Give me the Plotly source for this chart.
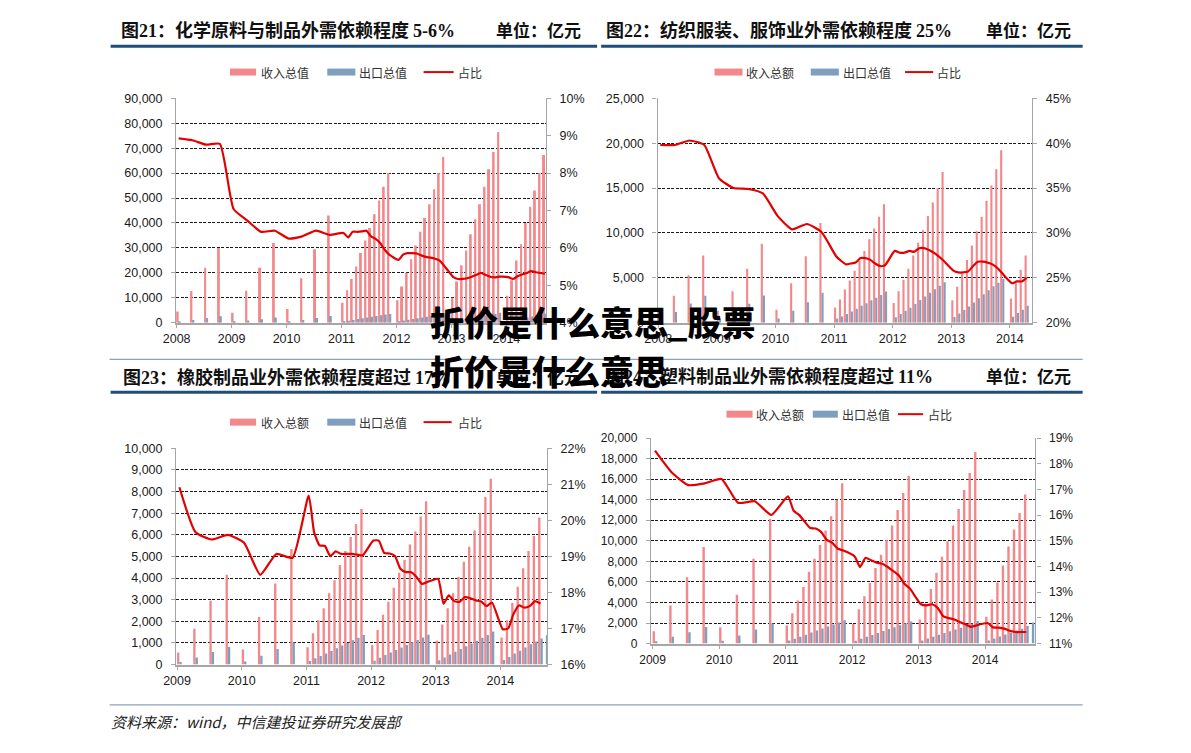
import plotly.graph_objects as go

# ---------------- data (亿元, 占比 in %) ----------------
def quarterly(*years):
    return [f"{y}Q{q}" for y in years for q in range(1, 5)]


def monthly(year, n):
    # cumulative statistics start with Jan-Feb
    return [f"{year}-{m:02d}" for m in range(2, 2 + n)]


years_top = [2008, 2009, 2010, 2011, 2012, 2013, 2014]
years_bottom = [2009, 2010, 2011, 2012, 2013, 2014]

# 图21 化学原料与制品
chem_periods = quarterly(2008, 2009, 2010) + monthly(2011, 11) + monthly(2012, 11) + monthly(2013, 11) + monthly(2014, 9)
chem_revenue = [4500, 12700, 22000, 30000,
                4000, 12800, 22000, 32000,
                5500, 17800, 29500, 43000,
                8000, 13000, 17500, 22500, 28000, 33000, 38000, 43500, 49000, 54500, 60000,
                9000, 14500, 20000, 25500, 31000, 36500, 42000, 47500, 53500, 60000, 66500,
                10000, 16500, 23000, 29000, 35500, 41500, 47500, 54500, 61500, 68500, 76500,
                10800, 17000, 25000, 31500, 40000, 46500, 53000, 60000, 67300]
chem_export = [400, 1100, 1900, 2600,
               280, 860, 1410, 2070,
               340, 1120, 1900, 2730,
               510, 820, 1130, 1450, 1800, 2130, 2410, 2720, 3020, 3260, 3480,
               510, 850, 1170, 1490, 1810, 2130, 2440, 2740, 3050, 3410, 3680,
               520, 860, 1190, 1510, 1860, 2190, 2530, 2860, 3210, 3580, 4000,
               560, 880, 1320, 1680, 2140, 2510, 2820, 3190, 3580]
chem_share = [8.93, 8.88, 8.76, 8.78,
              7.04, 6.73, 6.43, 6.46,
              6.25, 6.31, 6.46, 6.35,
              6.40, 6.28, 6.43, 6.43, 6.44, 6.46, 6.31, 6.24, 6.13, 5.95, 5.82,
              5.68, 5.82, 5.86, 5.86, 5.85, 5.80, 5.76, 5.74, 5.71, 5.66, 5.52,
              5.22, 5.17, 5.17, 5.19, 5.23, 5.28, 5.33, 5.28, 5.23, 5.21, 5.23,
              5.22, 5.17, 5.24, 5.29, 5.33, 5.38, 5.35, 5.33, 5.31]

# 图22 纺织服装、服饰业
tex_periods = quarterly(2008, 2009, 2010) + monthly(2011, 11) + monthly(2012, 11) + monthly(2013, 11) + monthly(2014, 4)
tex_revenue = [1400, 3000, 5300, 7500,
               1300, 3500, 6000, 8800,
               1450, 4400, 7400, 11100,
               1700, 2600, 3700, 4700, 5800, 6900, 8000, 9300, 10500, 11800, 13200,
               2200, 3500, 4800, 6000, 7500, 8900, 10300, 11900, 13400, 15000, 16800,
               2500, 4000, 5500, 7000, 8600, 10200, 11800, 13600, 15300, 17100, 19200,
               2700, 4400, 5900, 7500]
tex_export = [560, 1200, 2150, 3000,
              470, 1230, 2100, 3030,
              460, 1340, 2290, 3340,
              470, 700, 980, 1250, 1550, 1880, 2180, 2510, 2790, 3100, 3480,
              620, 970, 1330, 1680, 2090, 2520, 2910, 3340, 3720, 4110, 4520,
              650, 1020, 1410, 1800, 2260, 2730, 3160, 3630, 4050, 4460, 4900,
              660, 1080, 1450, 1880]
tex_share = [39.8, 39.8, 40.3, 39.8,
             36.1, 35.0, 34.9, 34.4,
             31.9, 30.4, 31.0, 30.1,
             27.4, 26.9, 26.5, 26.6, 26.7, 27.2, 27.2, 27.0, 26.6, 26.3, 26.4,
             28.0, 27.8, 27.8, 28.0, 27.9, 28.3, 28.3, 28.1, 27.8, 27.4, 26.9,
             25.8, 25.6, 25.6, 25.7, 26.3, 26.8, 26.8, 26.7, 26.5, 26.1, 25.5,
             24.4, 24.6, 24.6, 25.0]

# 图23 橡胶制品业
rub_periods = quarterly(2009, 2010) + monthly(2011, 11) + monthly(2012, 11) + monthly(2013, 11) + monthly(2014, 9)
rub_revenue = [550, 1650, 2950, 4150,
               700, 2200, 3750, 5350,
               800, 1450, 2050, 2600, 3300, 3900, 4600, 5250, 5900, 6500, 7200,
               900, 1600, 2300, 2900, 3550, 4250, 4850, 5550, 6150, 6850, 7550,
               1100, 1850, 2600, 3300, 4050, 4750, 5450, 6200, 7000, 7750, 8600,
               1250, 2050, 2850, 3600, 4450, 5250, 5950, 6800, None]
rub_export = [115, 325, 575, 815,
              135, 405, 715, 1015,
              165, 285, 395, 505, 630, 750, 880, 1000, 1125, 1240, 1370,
              175, 310, 440, 555, 675, 790, 900, 1025, 1135, 1250, 1380,
              200, 330, 465, 585, 720, 850, 975, 1100, 1235, 1365, 1525,
              210, 350, 505, 635, 785, 935, 1060, 1200, 1350]
rub_share = [20.92, 19.67, 19.47, 19.60,
             19.38, 18.49, 19.07, 18.96,
             20.69, 19.67, 19.31, 19.29, 19.01, 19.14, 19.07, 19.07, 19.07, 19.05, 19.03,
             19.44, 19.44, 19.10, 19.08, 19.01, 18.66, 18.57, 18.56, 18.43, 18.24, 18.29,
             18.38, 17.69, 17.92, 17.76, 17.74, 17.87, 17.84, 17.78, 17.75, 17.62, 17.72,
             16.98, 17.00, 17.40, 17.64, 17.58, 17.62, 17.76, 17.69, None]

# 图24 塑料制品业
pla_periods = quarterly(2009, 2010) + monthly(2011, 11) + monthly(2012, 11) + monthly(2013, 11) + monthly(2014, 9)
pla_revenue = [1200, 3700, 6450, 9400,
               1600, 4750, 8250, 12150,
               1750, 2950, 4200, 5500, 7000, 8250, 9600, 11000, 12400, 14000, 15600,
               1900, 3350, 4600, 5900, 7350, 8650, 10100, 11500, 13000, 14650, 16300,
               2350, 3900, 5300, 6900, 8450, 9950, 11500, 13100, 14950, 16600, 18650,
               2600, 4300, 5950, 7600, 9450, 11100, 12700, 14500, None]
pla_export = [220, 655, 1110, 1620,
              280, 780, 1365, 1945,
              295, 475, 670, 865, 1085, 1270, 1470, 1655, 1850, 2055, 2280,
              275, 470, 660, 840, 1040, 1220, 1410, 1590, 1775, 1955, 2140,
              295, 485, 655, 855, 1020, 1195, 1375, 1550, 1755, 1935, 2185,
              305, 500, 690, 880, 1080, 1265, 1450, 1700, 2050]
pla_share = [18.51, 17.67, 17.17, 17.24,
             17.41, 16.48, 16.54, 16.01,
             16.73, 16.18, 16.01, 15.75, 15.50, 15.48, 15.34, 15.04, 14.92, 14.69, 14.62,
             14.40, 13.98, 14.34, 14.24, 14.15, 14.11, 13.98, 13.82, 13.65, 13.33, 13.14,
             12.53, 12.49, 12.53, 12.39, 12.07, 11.99, 11.94, 11.84, 11.75, 11.65, 11.71,
             11.80, 11.63, 11.62, 11.58, 11.50, 11.45, 11.45, 11.45, None]

titles = ["图<span style=\"font-family:Liberation Serif\">21</span>：化学原料与制品外需依赖程度 <span style=\"font-family:Liberation Serif\">5-6%</span>",
          "图<span style=\"font-family:Liberation Serif\">22</span>：纺织服装、服饰业外需依赖程度 <span style=\"font-family:Liberation Serif\">25%</span>",
          "图<span style=\"font-family:Liberation Serif\">23</span>：橡胶制品业外需依赖程度超过 <span style=\"font-family:Liberation Serif\">17%</span>",
          "图<span style=\"font-family:Liberation Serif\">24</span>：塑料制品业外需依赖程度超过 <span style=\"font-family:Liberation Serif\">11%</span>"]
unit_text = "单位：亿元"
legend_names = [["收入总值", "出口总值", "占比"],
                ["收入总额", "出口总值", "占比"],
                ["收入总额", "出口总值", "占比"],
                ["收入总额", "出口总值", "占比"]]
source_text = "资料来源：wind，中信建投证券研究发展部"
watermark = ["折价是什么意思_股票", "折价是什么意思"]

# ---------------- styling ----------------
RED_BAR = "#F3878A"
BLUE_BAR = "#7F9FBE"
LINE_RED = "#E30000"
AXIS_GRAY = "#A6A6A6"
NAVY = "#1F4E79"
TICK_FONT = dict(family="Liberation Sans, Arial, sans-serif", size=12.5, color="#1a1a1a")
CJK = "Noto Sans CJK SC"
BAR_W = 0.036

FW, FH = 1191, 753
# the photographed page comes out slightly shrunk and shifted; these undo it
SX, DX = 0.986, 15.8
SY, DY = 0.984, 6.9
BODY = 8


def px(x):
    return ((x - DX) / SX - BODY) / FW


def py(y):
    return 1 - ((y - DY) / SY - BODY) / FH


def slot(p):
    if "Q" in p:
        y, q = p.split("Q")
        return int(y) + (int(q) - 1) / 4
    y, m = p.split("-")
    return int(y) + (int(m) - 2) / 12


panels = [
    dict(periods=chem_periods, rev=chem_revenue, exp=chem_export, share=chem_share, years=years_top,
         box=(178.3, 547, 98.3, 323.3), xr=[2007.99, 2014.72], yl=(0, 90000, 10000), yr=(4, 10, 1)),
    dict(periods=tex_periods, rev=tex_revenue, exp=tex_export, share=tex_share, years=years_top,
         box=(658.3, 1031.7, 98.3, 323.3), xr=[2007.99, 2014.38], yl=(0, 25000, 5000), yr=(20, 45, 5)),
    dict(periods=rub_periods, rev=rub_revenue, exp=rub_export, share=rub_share, years=years_bottom,
         box=(178.3, 548, 449.3, 666), xr=[2008.985, 2014.72], yl=(0, 10000, 1000), yr=(16, 22, 1)),
    dict(periods=pla_periods, rev=pla_revenue, exp=pla_export, share=pla_share, years=years_bottom,
         box=(651.7, 1035, 439, 645), xr=[2008.976, 2014.757], yl=(0, 20000, 2000), yr=(11, 19, 1)),
]

fig = go.Figure()
layout_axes = {}

for i, p in enumerate(panels):
    n = i + 1
    xa = "x" if n == 1 else f"x{n}"
    ya = "y" if n == 1 else f"y{2 * n - 1}"
    yb = f"y{2 * n}"
    xs = [slot(t) for t in p["periods"]]

    fig.add_trace(go.Bar(x=xs, y=p["rev"], width=BAR_W, offset=0, marker_color=RED_BAR,
                         marker_line_width=0, xaxis=xa, yaxis=ya, name=legend_names[i][0]))
    fig.add_trace(go.Bar(x=xs, y=p["exp"], width=BAR_W, offset=BAR_W, marker_color=BLUE_BAR,
                         marker_line_width=0, xaxis=xa, yaxis=ya, name=legend_names[i][1]))
    fig.add_trace(go.Scatter(x=[v + BAR_W for v in xs], y=p["share"], mode="lines",
                             line=dict(color=LINE_RED, width=2.2, shape="spline", smoothing=0.5),
                             xaxis=xa, yaxis=yb, name=legend_names[i][2]))

    x0, x1, y0, y1 = p["box"]
    xdom = [px(x0), px(x1)]
    ydom = [py(y1), py(y0)]
    xkey = "xaxis" if n == 1 else f"xaxis{n}"
    yakey = "yaxis" if n == 1 else f"yaxis{2 * n - 1}"
    ybkey = f"yaxis{2 * n}"
    small = 12 if n == 4 else 12.5
    tf = dict(TICK_FONT, size=small)

    layout_axes[xkey] = dict(domain=xdom, range=p["xr"], anchor=ya, tickmode="array",
                             tickvals=p["years"], ticktext=[str(y) for y in p["years"]],
                             showgrid=False, zeroline=False, showline=True, linecolor=AXIS_GRAY,
                             linewidth=1.5, ticks="outside", ticklen=4, tickcolor=AXIS_GRAY,
                             tickfont=tf, fixedrange=True)
    layout_axes[yakey] = dict(domain=ydom, anchor=xa, range=[p["yl"][0], p["yl"][1]], dtick=p["yl"][2],
                              tick0=0, tickformat=",", showgrid=True, gridcolor="#1a1a1a", gridwidth=1,
                              griddash="3px,1.5px", zeroline=False, showline=True, linecolor=AXIS_GRAY,
                              linewidth=1.2, ticks="outside", ticklen=4, tickcolor=AXIS_GRAY,
                              tickfont=tf, ticklabelstandoff=6)
    layout_axes[ybkey] = dict(domain=ydom, anchor=xa, overlaying=ya, side="right",
                              range=[p["yr"][0], p["yr"][1]], dtick=p["yr"][2], tick0=p["yr"][0],
                              ticksuffix="%", showgrid=False, zeroline=False, showline=True,
                              linecolor=AXIS_GRAY, linewidth=1.2, ticks="outside", ticklen=4,
                              tickcolor=AXIS_GRAY, tickfont=tf, ticklabelstandoff=6)

fig.update_layout(**layout_axes)

shapes = []
annotations = []


def text(x, y, s, size, anchor="left", weight="normal", style="normal", color="#1a1a1a", family=CJK):
    annotations.append(dict(x=px(x), y=py(y), xref="paper", yref="paper", text=s, showarrow=False,
                            xanchor=anchor, yanchor="middle", borderpad=0,
                            font=dict(family=family, size=size, color=color, weight=weight, style=style)))


def hline(x0, x1, y, color, width):
    shapes.append(dict(type="line", xref="paper", yref="paper", x0=px(x0), x1=px(x1), y0=py(y), y1=py(y),
                       line=dict(color=color, width=width)))


# titles, units and rules
title_pos = [(122, 29, 583), (606, 29, 1071), (124, 377, 583), (606, 376, 1071)]
for i, (tx, ty, ux) in enumerate(title_pos):
    text(tx, ty, titles[i], 18, weight="bold", color="#111111")
    text(ux, ty, unit_text, 17, anchor="right", weight="bold", color="#111111")

hline(113, 598, 46, NAVY, 3)
hline(602, 1082, 46, NAVY, 3)
hline(113, 598, 393, NAVY, 3)
hline(602, 1082, 393, NAVY, 3)
hline(112, 1082, 360, "#6F8DAA", 1)
hline(112, 1082, 706.5, "#6F8DAA", 1)

# hand-drawn legends (wide swatches like the original)
legend_pos = [
    (72, (232, 258), 262, (329, 357), 360, (425, 455), 458),
    (72, (715, 743), 745, (811, 839), 842, (905, 933), 936),
    (423, (232, 258), 262, (329, 357), 360, (425, 453), 458),
    (415, (727, 753), 755, (813, 838), 841, (898, 923), 927),
]
for i, (ly, rsw, rtx, bsw, btx, lsw, ltx) in enumerate(legend_pos):
    for (a, b), col in ((rsw, RED_BAR), (bsw, BLUE_BAR)):
        shapes.append(dict(type="rect", xref="paper", yref="paper", x0=px(a), x1=px(b),
                           y0=py(ly + 3.5), y1=py(ly - 3.5), fillcolor=col, line=dict(width=0)))
    hline(lsw[0], lsw[1], ly, LINE_RED, 2)
    text(rtx, ly, legend_names[i][0], 12, color="#333333")
    text(btx, ly, legend_names[i][1], 12, color="#333333")
    text(ltx, ly, legend_names[i][2], 12, color="#333333")

text(112, 723, source_text, 15, style="italic", color="#222222")

# overlaid heavy caption
text(430, 322, watermark[0], 34, weight=900, color="#000000")
text(430, 371, watermark[1], 34, weight=900, color="#000000")

fig.update_layout(
    width=FW, height=FH,
    margin=dict(l=0, r=0, t=0, b=0),
    paper_bgcolor="white", plot_bgcolor="white",
    showlegend=False, barmode="overlay",
    shapes=shapes, annotations=annotations,
)

fig.write_html("out.html")
